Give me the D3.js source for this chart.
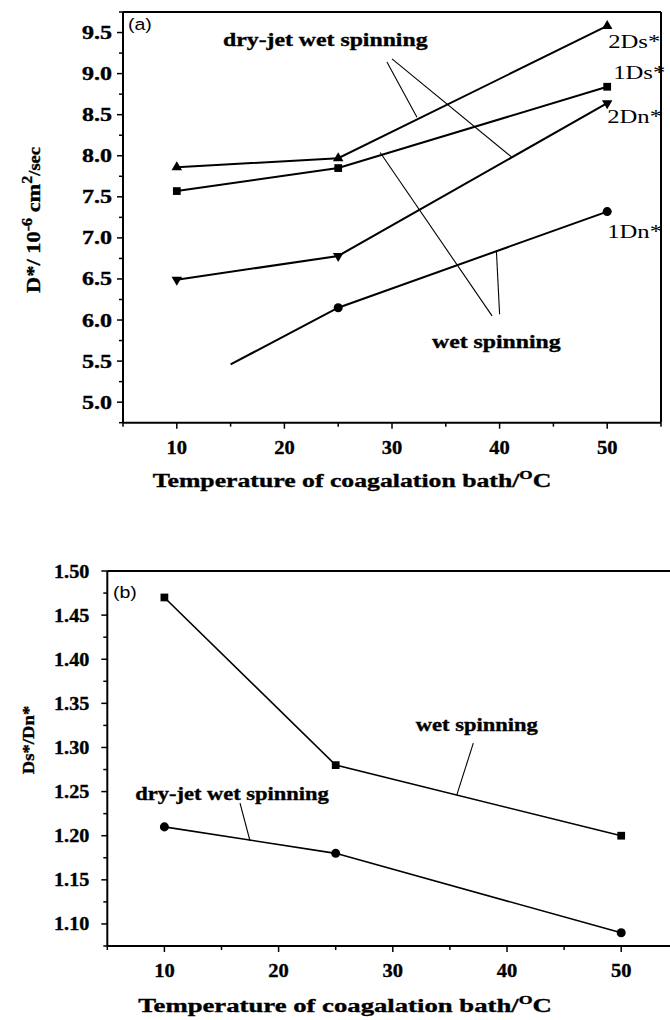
<!DOCTYPE html>
<html>
<head>
<meta charset="utf-8">
<script src="https://cdn.jsdelivr.net/npm/d3@7"></script>
<style>
  html, body { margin: 0; padding: 0; background: #fff; }
  svg { display: block; }
</style>
</head>
<body>
<div id="chart"></div>
<script>
// ---- data ----
const temps = [10, 25, 50];
const ds2 = [7.86, 7.97, 9.58];
const ds1 = [7.57, 7.85, 8.84];
const dn2 = [6.49, 6.78, 8.64];
const dn1Temps = [15, 25, 50];
const dn1 = [5.46, 6.15, 7.32];
const dn1Marked = [false, true, true];

const ratioWet = [1.47, 1.28, 1.20];
const ratioDry = [1.21, 1.18, 1.09];

const xTicks = [10, 20, 30, 40, 50];
const xMinor = [5, 15, 25, 35, 45, 55];
const yTicksA = [5.0, 5.5, 6.0, 6.5, 7.0, 7.5, 8.0, 8.5, 9.0, 9.5];
const yMinorA = [4.75, 5.25, 5.75, 6.25, 6.75, 7.25, 7.75, 8.25, 8.75, 9.25, 9.75];
const yTicksB = [1.10, 1.15, 1.20, 1.25, 1.30, 1.35, 1.40, 1.45, 1.50];
const yMinorB = [1.075, 1.125, 1.175, 1.225, 1.275, 1.325, 1.375, 1.425, 1.475];

// annotation pointers, in data units: [t0, v0, t1, v1]
const pointersA = [
  [30.0, 9.18, 41.16, 7.98],
  [29.53, 9.14, 32.32, 8.47],
  [28.9, 8.04, 39.3, 6.05],
  [39.7, 6.85, 40.0, 6.07]
];
const pointersB = [
  [16.62, 1.237, 17.5, 1.194],
  [37.05, 1.305, 35.6, 1.246]
];

const W = 670, H = 1020;
const SERIF = "'Liberation Serif', 'Times New Roman', serif";
const SANS = "'Liberation Sans', Arial, sans-serif";

const svg = d3.select("#chart").append("svg")
  .attr("width", W).attr("height", H)
  .attr("viewBox", `0 0 ${W} ${H}`);

// text stretched horizontally, like the wide typesetting of the figure
function stext(g, x, y, str, opts = {}) {
  const grp = g.append("g")
    .attr("transform", `translate(${x},${y}) rotate(${opts.rotate || 0}) scale(${opts.sx || 1.3},1)`);
  const bold = (opts.weight || "bold") === "bold";
  const t = grp.append("text")
    .attr("x", 0).attr("y", 0)
    .attr("text-anchor", opts.anchor || "middle")
    .attr("font-family", opts.family || SERIF)
    .attr("font-weight", opts.weight || "bold")
    .attr("font-size", opts.size || 18)
    .attr("fill", "#000")
    .attr("stroke", bold ? "#000" : "none")
    .attr("stroke-width", bold ? 0.35 : 0);
  if (typeof str === "string") t.text(str);
  else str.forEach(p => {
    const s = t.append("tspan").text(p.t);
    if (p.dy) s.attr("dy", p.dy);
    if (p.size) s.attr("font-size", p.size);
  });
  return t;
}

function drawAxes(g, x, y, yTicks, yMinor, fmt, opt) {
  const [x0, x1] = x.range();
  const [yb, yt] = y.range();
  // frame
  g.append("line").attr("x1", x0).attr("x2", x1).attr("y1", yb).attr("y2", yb)
    .attr("stroke", "#000").attr("stroke-width", 2);
  g.append("line").attr("x1", x0).attr("x2", x0).attr("y1", yb).attr("y2", yt)
    .attr("stroke", "#000").attr("stroke-width", 2);
  g.append("line").attr("x1", x0).attr("x2", x1).attr("y1", yt).attr("y2", yt)
    .attr("stroke", "#000").attr("stroke-width", 2);
  if (opt.right) {
    g.append("line").attr("x1", x1).attr("x2", x1).attr("y1", yb).attr("y2", yt)
      .attr("stroke", "#000").attr("stroke-width", 2);
  }
  // x ticks
  g.selectAll(null).data(xTicks).enter().append("line")
    .attr("x1", d => x(d)).attr("x2", d => x(d)).attr("y1", yb).attr("y2", yb + 6)
    .attr("stroke", "#000").attr("stroke-width", 1.5);
  g.selectAll(null).data(xMinor).enter().append("line")
    .attr("x1", d => x(d)).attr("x2", d => x(d)).attr("y1", yb).attr("y2", yb + 4)
    .attr("stroke", "#000").attr("stroke-width", 1.5);
  xTicks.forEach(d => stext(g, x(d), yb + 31, String(d), { size: 19, sx: 1.08 }));
  // y ticks
  g.selectAll(null).data(yTicks).enter().append("line")
    .attr("x1", x0 - 6).attr("x2", x0).attr("y1", d => y(d)).attr("y2", d => y(d))
    .attr("stroke", "#000").attr("stroke-width", 1.5);
  g.selectAll(null).data(yMinor).enter().append("line")
    .attr("x1", x0 - 4).attr("x2", x0).attr("y1", d => y(d)).attr("y2", d => y(d))
    .attr("stroke", "#000").attr("stroke-width", 1.5);
  yTicks.forEach(d => stext(g, x0 - opt.labelGap, y(d) + 6.5, fmt(d), { size: opt.tickSize, sx: opt.tickSx, anchor: "end" }));
}

function series(g, x, y, ts, vs, sym, rot, marked, lw) {
  const line = d3.line().x((d, i) => x(ts[i])).y(d => y(d));
  g.append("path").datum(vs).attr("d", line)
    .attr("fill", "none").attr("stroke", "#000").attr("stroke-width", lw);
  const pts = vs.map((v, i) => ({ t: ts[i], v, m: marked ? marked[i] : true })).filter(p => p.m);
  g.selectAll(null).data(pts).enter().append("path")
    .attr("d", d3.symbol().type(sym.type).size(sym.size))
    .attr("transform", d => `translate(${x(d.t)},${y(d.v)}) rotate(${rot})`)
    .attr("fill", "#000");
}

function pointers(g, x, y, list) {
  g.selectAll(null).data(list).enter().append("line")
    .attr("x1", d => x(d[0])).attr("y1", d => y(d[1]))
    .attr("x2", d => x(d[2])).attr("y2", d => y(d[3]))
    .attr("stroke", "#000").attr("stroke-width", 1.1);
}

const TRI = { type: d3.symbolTriangle, size: 48 };
const SQR = { type: d3.symbolSquare, size: 60 };
const CIR = { type: d3.symbolCircle, size: 64 };

// ---- panel (a) ----
{
  const g = svg.append("g");
  const x = d3.scaleLinear().domain([5, 55]).range([123, 661]);
  const y = d3.scaleLinear().domain([4.75, 9.75]).range([422.7, 12]);
  drawAxes(g, x, y, yTicksA, yMinorA, d3.format(".1f"), { right: true, labelGap: 11, tickSx: 1.3, tickSize: 18.5 });

  pointers(g, x, y, pointersA);
  series(g, x, y, temps, ds2, TRI, 0, null, 2);
  series(g, x, y, temps, ds1, SQR, 0, null, 2);
  series(g, x, y, temps, dn2, TRI, 180, null, 2);
  series(g, x, y, dn1Temps, dn1, CIR, 0, dn1Marked, 2);

  stext(g, x(50) + 1, y(ds2[2]) + 22, "2Ds*", { weight: "normal", size: 19, sx: 1.3, anchor: "start" });
  stext(g, x(50) + 6, y(ds1[2]) - 8, "1Ds*", { weight: "normal", size: 19, sx: 1.3, anchor: "start" });
  stext(g, x(50), y(dn2[2]) + 20, "2Dn*", { weight: "normal", size: 19, sx: 1.3, anchor: "start" });
  stext(g, x(50), y(dn1[2]) + 26, "1Dn*", { weight: "normal", size: 19, sx: 1.3, anchor: "start" });

  stext(g, x(23.8), y(9.33), "dry-jet wet spinning", { size: 19, sx: 1.25 });
  stext(g, x(39.7), y(5.665), "wet spinning", { size: 19, sx: 1.25 });

  stext(g, 128, 30, "(a)", { family: SANS, weight: "normal", size: 17, sx: 1.15, anchor: "start" });

  stext(g, 352, 487, [
    { t: "Temperature of coagalation bath/" },
    { t: "O", size: 13, dy: -8 },
    { t: "C", dy: 8 }
  ], { size: 19.5, sx: 1.32 });

  stext(g, 40, 220, [
    { t: "D*/ 10" },
    { t: "-6", size: 14, dy: -8 },
    { t: " cm", dy: 8 },
    { t: "2", size: 14, dy: -8 },
    { t: "/sec", size: 16, dy: 8 }
  ], { size: 19.5, sx: 1.15, rotate: -90 });
}

// ---- panel (b) ----
{
  const g = svg.append("g");
  const x = d3.scaleLinear().domain([5, 55]).range([107.3, 678.3]);
  const y = d3.scaleLinear().domain([1.075, 1.50]).range([946, 571]);
  drawAxes(g, x, y, yTicksB, yMinorB, d3.format(".2f"), { right: true, labelGap: 18, tickSx: 1.12, tickSize: 18 });

  pointers(g, x, y, pointersB);
  series(g, x, y, temps, ratioWet, SQR, 0, null, 1.6);
  series(g, x, y, temps, ratioDry, CIR, 0, null, 1.6);

  stext(g, x(37.35), y(1.319), "wet spinning", { size: 18, sx: 1.25 });
  stext(g, 232, 800, "dry-jet wet spinning", { size: 18, sx: 1.25 });

  stext(g, 113, 598, "(b)", { family: SANS, weight: "normal", size: 17, sx: 1.15, anchor: "start" });

  stext(g, 345, 1012, [
    { t: "Temperature of coagalation bath/" },
    { t: "O", size: 13, dy: -8 },
    { t: "C", dy: 8 }
  ], { size: 19.5, sx: 1.37 });

  stext(g, 34, 740, "Ds*/Dn*", { size: 17, sx: 1.1, rotate: -90 });
}
</script>
</body>
</html>
